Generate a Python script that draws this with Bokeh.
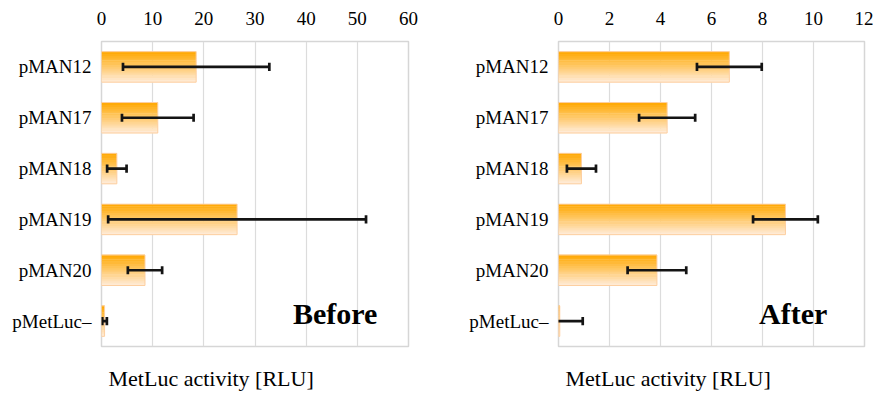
from bokeh.plotting import figure
from bokeh.models import Range1d, FactorRange, FixedTicker, Title, ColumnDataSource
from bokeh.transform import dodge
from bokeh.layouts import row
from bokeh.embed import file_html
from bokeh.resources import INLINE
from bokeh.core.properties import value

categories = ["pMAN12", "pMAN17", "pMAN18", "pMAN19", "pMAN20", "pMetLuc–"]
before_values = [18.5, 11.0, 3.0, 26.5, 8.5, 0.6]
before_errors = [14.3, 7.0, 1.9, 25.2, 3.35, 0.45]
after_values = [6.7, 4.26, 0.9, 8.9, 3.86, 0.05]
after_errors = [1.27, 1.1, 0.57, 1.27, 1.15, 0.9]
before_ticks = [0, 10, 20, 30, 40, 50, 60]
after_ticks = [0, 2, 4, 6, 8, 10, 12]
axis_title = "MetLuc activity [RLU]"
panel_labels = ["Before", "After"]

FONT = "Liberation Serif"
TOP_RGB = (255, 170, 8)
BOT_RGB = (255, 234, 212)
N_STRIPS = 14
BAR_H = 0.6


def make_panel(vals, errs, ticks, label, label_x, width, bl, br):
    p = figure(width=width, height=394, output_backend="svg", toolbar_location=None,
               x_axis_location="above",
               x_range=Range1d(ticks[0], ticks[-1]),
               y_range=FactorRange(factors=list(reversed(categories)), range_padding=0),
               min_border_left=bl, min_border_right=br, min_border_top=41,
               min_border_bottom=48)
    p.background_fill_color = "white"
    p.border_fill_color = "white"
    p.outline_line_color = "#D6D6D6"
    p.outline_line_width = 1.5

    src = ColumnDataSource(dict(
        cat=categories, v=vals,
        lo=[v - e for v, e in zip(vals, errs)],
        hi=[v + e for v, e in zip(vals, errs)],
    ))
    sh = BAR_H / N_STRIPS
    for i in range(N_STRIPS):
        t = i / (N_STRIPS - 1)  # 0 bottom -> 1 top
        c = tuple(int(round(BOT_RGB[k] + (TOP_RGB[k] - BOT_RGB[k]) * t)) for k in range(3))
        off = -BAR_H / 2 + (i + 0.5) * sh
        p.hbar(y=dodge("cat", off, range=p.y_range), left=0, right="v", height=sh * 1.2,
               source=src, fill_color="#%02x%02x%02x" % c, line_color=None)
    p.hbar(y="cat", left=0, right="v", height=BAR_H, source=src,
           fill_alpha=0, line_color="#FDCFA0", line_width=1)

    ec = "#141414"
    p.segment(x0="lo", x1="hi", y0="cat", y1="cat", source=src, line_color=ec, line_width=2.7)
    for col in ("lo", "hi"):
        p.segment(x0=col, x1=col, y0=dodge("cat", -0.08, range=p.y_range),
                  y1=dodge("cat", 0.08, range=p.y_range), source=src,
                  line_color=ec, line_width=2.7)

    lsrc = ColumnDataSource(dict(x=[label_x], y=[categories[-1]], t=[label]))
    p.text(x="x", y="y", text="t", source=lsrc, text_align="right", text_baseline="middle",
           y_offset=-8, text_font=value(FONT), text_font_size="30px", text_font_style="bold",
           text_color="black")

    xa = p.xaxis[0]
    xa.ticker = FixedTicker(ticks=ticks)
    xa.axis_line_color = None
    xa.major_tick_line_color = None
    xa.minor_tick_line_color = None
    xa.major_tick_out = 0
    xa.major_label_standoff = 17
    xa.major_label_text_font = FONT
    xa.major_label_text_font_size = "19px"
    xa.major_label_text_color = "black"

    ya = p.yaxis[0]
    ya.axis_line_color = None
    ya.major_tick_line_color = None
    ya.minor_tick_line_color = None
    ya.major_tick_out = 0
    ya.major_label_standoff = 10
    ya.major_label_text_font = FONT
    ya.major_label_text_font_size = "19px"
    ya.major_label_text_color = "black"

    p.xgrid.grid_line_color = "#DCDCDC"
    p.xgrid.grid_line_width = 1.2
    p.ygrid.grid_line_color = None

    # spacer line keeps the axis title at the reference distance below the frame
    p.add_layout(Title(text=" ", align="left", text_font=FONT, text_font_size="10px",
                       standoff=0), "below")
    p.add_layout(Title(text=axis_title, align="left", offset=7, text_font=FONT,
                       text_font_size="22px", text_font_style="normal", text_color="black",
                       standoff=8), "below")
    return p


p1 = make_panel(before_values, before_errors, before_ticks, panel_labels[0], 53.9, 438, 101, 30)
p2 = make_panel(after_values, after_errors, after_ticks, panel_labels[1], 10.54, 435, 120, 9)
layout = row(p1, p2)

open("out.html", "w").write(file_html(layout, INLINE))
